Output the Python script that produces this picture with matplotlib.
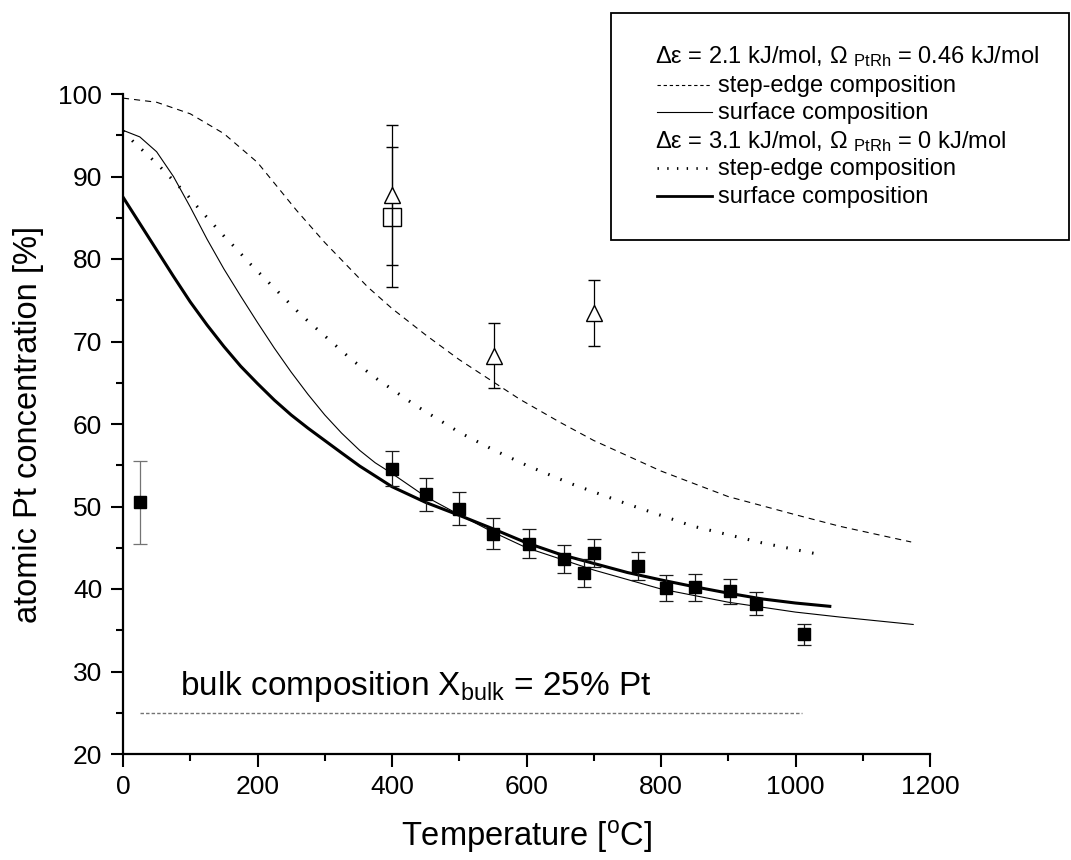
"""Pt surface / step-edge segregation vs temperature."""
import numpy as np
import matplotlib
matplotlib.use('Agg')
import matplotlib.pyplot as plt
from matplotlib.ticker import MultipleLocator
from matplotlib.lines import Line2D
from matplotlib.patches import Rectangle

plt.rcParams.update({'font.family': ['Liberation Sans', 'DejaVu Sans'],
                     'mathtext.fontset': 'custom',
                     'mathtext.rm': 'Liberation Sans',
                     'mathtext.it': 'Liberation Sans:italic',
                     'mathtext.bf': 'Liberation Sans:bold'})

# model curves
edge21_T = [0, 50, 100, 150, 200, 258, 300, 364, 400, 450, 500, 590, 650, 700, 800, 858, 900, 1000, 1066, 1172]
edge21_v = [99.5, 99.0, 97.6, 95.2, 91.7, 85.9, 82.0, 76.6, 74.0, 70.8, 67.8, 63.0, 60.2, 58.0, 54.3, 52.5, 51.2, 49.0, 47.6, 45.7]

surf21_T = [0, 25, 50, 75, 100, 125, 150, 175, 200, 225, 250, 275, 300, 325, 352, 375, 400, 450, 500,
            550, 600, 700, 800, 900, 1000, 1066, 1175]
surf21_v = [95.6, 94.8, 93.0, 90.0, 86.3, 82.4, 78.8, 75.5, 72.3, 69.2, 66.3, 63.6, 61.1, 58.9, 56.8, 55.3,
            54.0, 51.2, 49.0, 46.9, 45.0, 42.3, 40.0, 38.4, 37.2, 36.6, 35.7]

edge31_T = [0, 18, 37, 56, 75, 95, 113, 132, 151, 169, 188, 265, 340, 377, 434, 500, 550, 600, 665, 750, 848, 950, 1041]
edge31_v = [95.5, 94.0, 92.6, 91.1, 89.5, 87.8, 86.1, 84.4, 82.7, 81.2, 79.5, 73.2, 67.8, 65.5, 62.3, 59.0, 56.9, 55.0, 52.8, 50.3, 47.6, 45.6, 44.1]

surf31_T = [0, 25, 50, 75, 100, 125, 150, 175, 200, 225, 250, 275, 300, 325, 352, 400, 450, 501, 550,
            600, 650, 700, 750, 800, 848, 900, 950, 1000, 1051]
surf31_v = [87.5, 84.3, 81.1, 77.9, 74.8, 72.0, 69.4, 67.0, 64.9, 62.9, 61.1, 59.5, 58.0, 56.5, 54.9, 52.4,
            50.5, 48.9, 47.3, 45.6, 44.2, 43.1, 42.0, 41.1, 40.3, 39.5, 38.8, 38.3, 37.9]

# measurements
sq_T = [25, 400, 450, 500, 550, 603, 656, 686, 701, 766, 807, 851, 903, 942, 1012]
sq_v = [50.5, 54.6, 51.5, 49.7, 46.7, 45.5, 43.6, 41.9, 44.4, 42.8, 40.1, 40.2, 39.7, 38.2, 34.5]
sq_err = [5.0, 2.1, 2.0, 2.0, 1.9, 1.8, 1.7, 1.7, 1.7, 1.7, 1.6, 1.6, 1.5, 1.4, 1.3]

open_sq_T = [400]
open_sq_v = [85.1]
open_sq_err = [8.5]

tri_T = [400, 551, 701]
tri_v = [87.8, 68.3, 73.5]
tri_err = [8.5, 3.9, 4.0]

bulk_T = [25, 1010]
bulk_v = [25, 25]

fig = plt.figure(figsize=(10.71, 8.6), dpi=100)
W, H = 1071, 860
ax = fig.add_axes([123 / W, 1 - 754 / H, (930 - 123) / W, (754 - 94) / H])

ax.plot(edge21_T, edge21_v, color='black', lw=0.8, ls=(0, (5.5, 4.5)), zorder=2)
ax.plot(surf21_T, surf21_v, color='black', lw=0.8, zorder=2)
ax.plot(edge31_T, edge31_v, color='black', lw=2.2, ls=(0, (0.5, 3.8)), zorder=2)
ax.plot(surf31_T, surf31_v, color='black', lw=2.2, zorder=2)
ax.plot(bulk_T, bulk_v, color='0.45', lw=1.0, ls=(0, (2.5, 1.5)), zorder=2)

ecols = ['0.45'] + ['0.1'] * (len(sq_T) - 1)
for t, v, e, c in zip(sq_T, sq_v, sq_err, ecols):
    ax.errorbar([t], [v], yerr=[e], fmt='s', ms=8, mec='black', mfc='black',
                ecolor=c, elinewidth=0.9, capsize=4.7, capthick=0.9, zorder=3)
ax.errorbar(open_sq_T, open_sq_v, yerr=open_sq_err, fmt='s', ms=12.5, mec='black', mfc='none',
            mew=1.0, ecolor='black', elinewidth=0.9, capsize=4.5, capthick=0.9, zorder=3)
ax.errorbar(tri_T, tri_v, yerr=tri_err, fmt='^', ms=11, mec='black', mfc='white',
            mew=1.0, ecolor='black', elinewidth=0.9, capsize=4.5, capthick=0.9, zorder=4)

ax.text(85, 27.2, r'bulk composition X$_{\rm bulk}$ = 25% Pt', fontsize=24, va='baseline')

ax.set_xlim(0, 1200)
ax.set_ylim(20, 100)
ax.xaxis.set_major_locator(MultipleLocator(200))
ax.xaxis.set_minor_locator(MultipleLocator(100))
ax.yaxis.set_major_locator(MultipleLocator(10))
ax.yaxis.set_minor_locator(MultipleLocator(5))
ax.tick_params(which='major', length=9, width=1.5, labelsize=19, pad=6)
ax.tick_params(which='minor', length=5, width=1.5)
for s in ['top', 'right']:
    ax.spines[s].set_visible(False)
for s in ['left', 'bottom']:
    ax.spines[s].set_linewidth(1.6)
ax.set_xlabel(r'Temperature [$^{\rm o}$C]', fontsize=23.5, labelpad=14)
ax.set_ylabel('atomic Pt concentration [%]', fontsize=23.5, labelpad=10)

# hand-made legend box
def fx(x):
    return x / W

def fy(y):
    return 1 - y / H

fig.patches.append(Rectangle((fx(611), fy(240)), fx(1069) - fx(611), fy(13) - fy(240),
                             transform=fig.transFigure, fill=False, lw=1.3, ec='black'))
rows = [
    (None, 'Δε = 2.1 kJ/mol, Ω $_{\\rm PtRh}$ = 0.46 kJ/mol', 63),
    (dict(lw=0.8, ls=(0, (3, 2.5))), 'step-edge composition', 92),
    (dict(lw=0.8, ls='-'), 'surface composition', 119),
    (None, 'Δε = 3.1 kJ/mol, Ω $_{\\rm PtRh}$ = 0 kJ/mol', 148),
    (dict(lw=2.0, ls=(0, (0.5, 3.0))), 'step-edge composition', 175),
    (dict(lw=2.0, ls='-'), 'surface composition', 203),
]
for style, label, yb in rows:
    if style is None:
        fig.text(fx(655), fy(yb), label, fontsize=17, va='baseline', ha='left')
    else:
        fig.lines.append(Line2D([fx(657), fx(712)], [fy(yb - 7), fy(yb - 7)],
                                transform=fig.transFigure, color='black', **style))
        fig.text(fx(718), fy(yb), label, fontsize=17, va='baseline', ha='left')

fig.savefig('out.png', dpi=100)
